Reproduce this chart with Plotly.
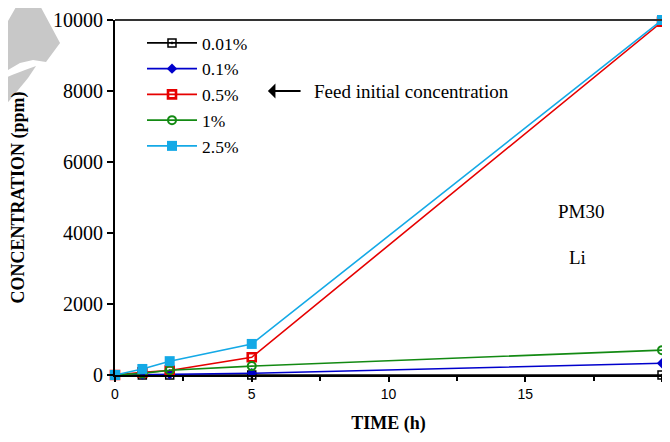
import plotly.graph_objects as go

# -----------------------------
# Data
# -----------------------------
time_h = [0, 1, 2, 5, 20]

conc_001 = [0, 0, 0, 0, 0]
conc_01 = [0, 10, 20, 50, 330]
conc_05 = [0, 75, 125, 500, 9950]
conc_1 = [0, 45, 135, 250, 700]
conc_25 = [0, 170, 390, 875, 10000]

series_names = ["0.01%", "0.1%", "0.5%", "1%", "2.5%"]

y_ticks = [0, 2000, 4000, 6000, 8000, 10000]
x_ticks = [0, 5, 10, 15, 20]

# -----------------------------
# Geometry (page has an 8px body margin)
# -----------------------------
W, H = 654, 426
ML, MR, MT, MB = 107, 0, 12, 59
PW, PH = W - ML - MR, H - MT - MB
X0, Y0 = 115, 375          # plot origin in screen pixels


def px(x):
    return (x - X0) / PW


def py(y):
    return (Y0 - y) / PH


def path(points):
    s = "M " + " L ".join(f"{px(x):.4f},{py(y):.4f}" for x, y in points)
    return s + " Z"


fig = go.Figure()

styles = [
    dict(color="#000000", symbol="square-open-dot", size=8, lw=1.5),
    dict(color="#0000cc", symbol="diamond", size=8, lw=0),
    dict(color="#e60000", symbol="square-open", size=8, lw=2.6),
    dict(color="#138a13", symbol="circle-open", size=8, lw=2),
    dict(color="#14a9e6", symbol="square", size=10, lw=0),
]

for name, vals, st in zip(series_names,
                          [conc_001, conc_01, conc_05, conc_1, conc_25],
                          styles):
    fig.add_trace(go.Scatter(
        x=time_h,
        y=vals,
        mode="lines+markers",
        name=name,
        cliponaxis=False,
        line=dict(color=st["color"], width=1.6),
        marker=dict(symbol=st["symbol"], size=st["size"], color=st["color"],
                    line=dict(color=st["color"], width=st["lw"])),
    ))

# -----------------------------
# Text annotations
# -----------------------------
serif = "Liberation Serif, Times New Roman, serif"

fig.add_annotation(x=5.59, y=8000, ax=6.84, ay=8000, axref="x", ayref="y",
                   text="", showarrow=True, arrowhead=1, arrowsize=1.4,
                   arrowwidth=1.8, arrowcolor="black")
fig.add_annotation(x=7.22, y=8000, text="Feed initial concentration",
                   showarrow=False, xanchor="left",
                   font=dict(family=serif, size=19, color="black"))
fig.add_annotation(x=17.05, y=4600, text="PM30", showarrow=False,
                   font=dict(family=serif, size=19, color="black"))
fig.add_annotation(x=16.9, y=3320, text="Li", showarrow=False,
                   font=dict(family=serif, size=19, color="black"))

# watermark in the top-left corner
fig.add_shape(type="path", xref="paper", yref="paper", layer="below",
              path=path([(20, 0), (37, 0), (60, 43), (46, 62), (33, 60),
                         (20, 63), (8, 70), (0, 72), (0, 35)]),
              fillcolor="#c8c8c8", line=dict(width=0))
fig.add_shape(type="path", xref="paper", yref="paper", layer="below",
              path=path([(0, 80), (12, 75), (25, 70), (36, 66), (28, 78),
                         (0, 112)]),
              fillcolor="#c8c8c8", line=dict(width=0))

# top frame line
fig.add_shape(type="line", xref="paper", yref="paper", x0=0, x1=1, y0=1, y1=1,
              line=dict(color="#333333", width=2))

# -----------------------------
# Layout
# -----------------------------
fig.update_layout(
    width=W,
    height=H,
    margin=dict(l=ML, r=MR, t=MT, b=MB),
    paper_bgcolor="white",
    plot_bgcolor="white",
    showlegend=True,
    legend=dict(x=px(142), y=py(25), xanchor="left", yanchor="top",
                bgcolor="rgba(0,0,0,0)", itemwidth=50,
                font=dict(family=serif, size=17.5, color="black")),
    xaxis=dict(
        range=[0, 20],
        tickvals=x_ticks,
        ticks="outside",
        ticklen=5,
        tickwidth=1.5,
        tickcolor="black",
        minor=dict(tickvals=[2.5, 7.5, 12.5, 17.5], ticks="outside",
                   ticklen=4, tickwidth=1.5, tickcolor="black"),
        showline=True,
        linecolor="black",
        linewidth=2,
        showgrid=False,
        zeroline=False,
        automargin=False,
        tickfont=dict(family="Liberation Sans, Arial, sans-serif", size=14,
                      color="black"),
        title=dict(text="<b>TIME (h)</b>", standoff=28,
                   font=dict(family=serif, size=18, color="black")),
    ),
    yaxis=dict(
        range=[0, 10000],
        tickvals=y_ticks,
        ticktext=[str(v) for v in y_ticks],
        ticks="outside",
        ticklen=6,
        tickwidth=1.5,
        tickcolor="black",
        showline=True,
        linecolor="black",
        linewidth=2,
        showgrid=False,
        zeroline=False,
        automargin=False,
        tickfont=dict(family=serif, size=20, color="black"),
        title=dict(text="<b>CONCENTRATION (ppm)</b>", standoff=28,
                   font=dict(family=serif, size=18, color="black")),
    ),
)

fig.write_html("out.html")
